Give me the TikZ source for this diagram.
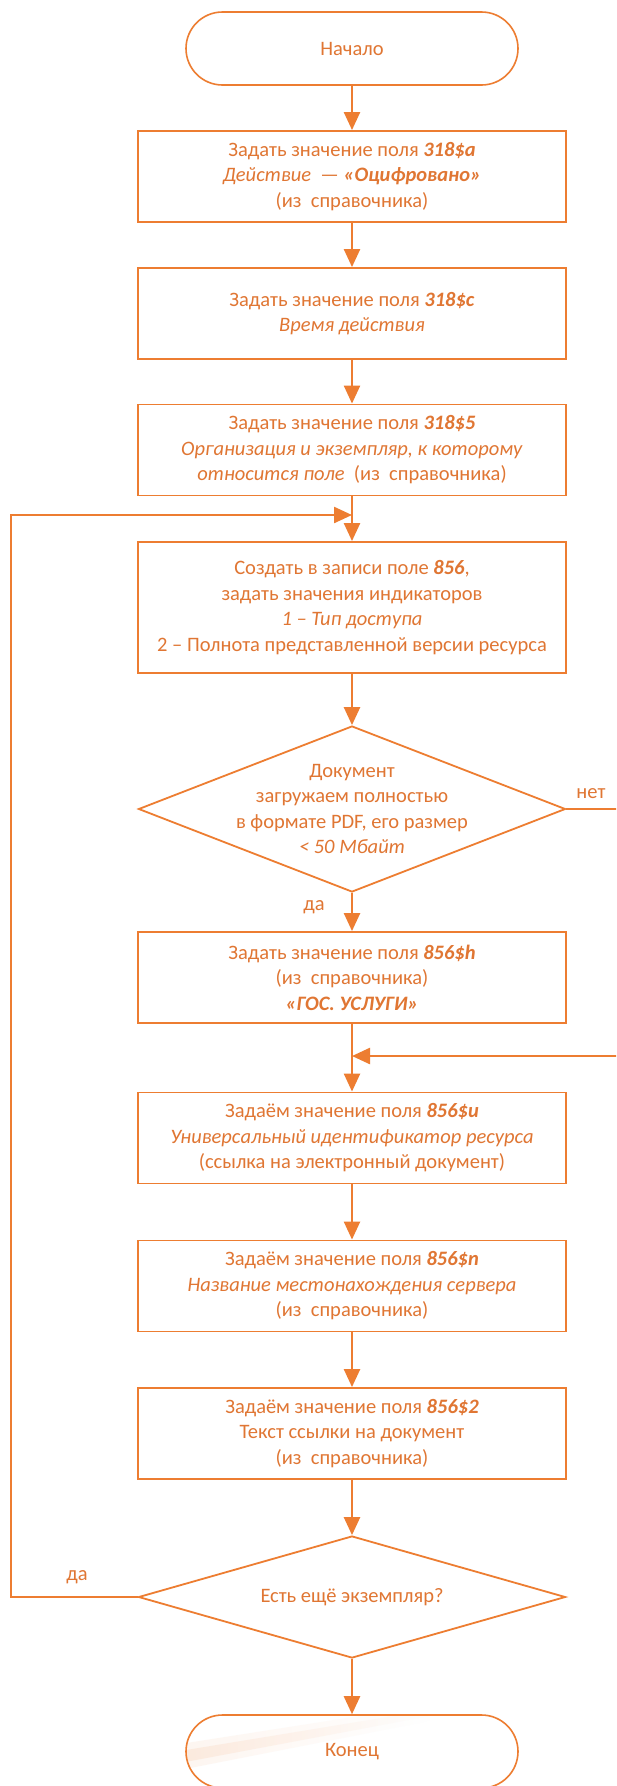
\documentclass[tikz,border=0pt]{standalone}
\usepackage{fontspec}
\setmainfont{Carlito}
\usetikzlibrary{arrows.meta,shapes.geometric,fadings}
\definecolor{org}{HTML}{ED7D31}
\definecolor{orgtxt}{HTML}{E07633}
\newcommand\myfs{\fontsize{20.5pt}{25.5pt}\selectfont}
\newcommand\fbi[1]{\textbf{\textit{#1}}}
\tikzfading[name=myfadeR, left color=transparent!0, right color=transparent!100]
\tikzset{
  box/.style={draw=org, line width=1.9pt, minimum width=428pt, minimum height=91pt,
    inner sep=0pt, align=center, text=orgtxt, font=\myfs},
  term/.style={draw=org, line width=1.6pt, rounded corners=36.5pt, minimum width=332pt,
    minimum height=73pt, inner sep=0pt, text=orgtxt, font=\myfs},
  dia/.style={draw=org, diamond, line width=1.8pt, inner sep=0pt},
  lbl/.style={text=orgtxt, font=\myfs, align=center, inner sep=0pt},
  arr/.style={draw=org, line width=2.4pt, -{Triangle[length=18pt,width=16pt]}},
}
\begin{document}
\begin{tikzpicture}[x=1pt,y=-1pt]
\useasboundingbox (0,0) rectangle (616,1786);
\clip (0,0) rectangle (616,1786);
\fill[white] (0,0) rectangle (616,1786);

\node[term] (start) at (352,48.5) {Начало};
\node[box] (b1) at (352,176.5) {Задать значение поля \fbi{318\$a}\\
  \textit{Действие}~~— \fbi{«Оцифровано»}\\(из~~справочника)};
\node[box] (b2) at (352,313.5) {Задать значение поля \fbi{318\$c}\\
  \textit{Время действия}};
\node[box] (b3) at (352,450) {Задать значение поля \fbi{318\$5}\\
  \textit{Организация и экземпляр, к которому}\\
  \textit{относится поле}~~(из~~справочника)};
\node[box, minimum height=131pt] (b4) at (352,607.5) {Создать в записи поле \fbi{856},\\
  задать значения индикаторов\\
  \textit{1 – Тип доступа}\\
  2 – Полнота представленной версии ресурса};
\node[dia, minimum width=427pt, minimum height=166pt] (d1) at (352,809) {};
\node[lbl] (d1t) at (d1.center) {Документ\\загружаем полностью\\в формате PDF, его размер\\\textit{< 50 Мбайт}};
\node[box] (b5) at (352,977.5) {Задать значение поля \fbi{856\$h}\\
  (из~~справочника)\\
  \fbi{«ГОС. УСЛУГИ»}};
\node[box] (b6) at (352,1138) {Задаём значение поля \fbi{856\$u}\\
  \textit{Универсальный идентификатор ресурса}\\
  (ссылка на электронный документ)};
\node[box] (b7) at (352,1286) {Задаём значение поля \fbi{856\$n}\\
  \textit{Название местонахождения сервера}\\
  (из~~справочника)};
\node[box] (b8) at (352,1433.5) {Задаём значение поля \fbi{856\$2}\\
  Текст ссылки на документ\\
  (из~~справочника)};
\node[dia, minimum width=427pt, minimum height=122pt] (d2) at (352,1597) {};
\node[lbl] (d2t) at (d2.center) {Есть ещё экземпляр?};

% faint streak inside the end terminal
\begin{scope}
  \clip[rounded corners=36.5pt] (186,1715) rectangle (518,1788);
  \fill[org!20, path fading=myfadeR, opacity=0.35] (180,1744) -- (430,1705) -- (430,1721) -- (180,1770) -- cycle;
  \fill[org!30, path fading=myfadeR, opacity=0.4] (180,1751) -- (430,1710) -- (430,1716) -- (180,1763) -- cycle;
\end{scope}
\node[term] (end) at (352,1751.5) {Конец};

\node[lbl] (no) at (591,794) {нет};
\node[lbl] (yes1) at (314,907) {да};
\node[lbl] (yes2) at (77,1577) {да};

\coordinate (j1) at (352,515);
\coordinate (lft) at (11,1597);
\coordinate (j2) at (352,1056);
\coordinate (rt) at (622,809);

\draw[arr] (start) -- (b1);
\draw[arr] (b1) -- (b2);
\draw[arr] (b2) -- (b3);
\draw[arr] (b3) -- (b4);
\draw[arr] (b4) -- (d1);
\draw[arr] (d1) -- (b5);
\draw[arr] (b5) -- (b6);
\draw[arr] (b6) -- (b7);
\draw[arr] (b7) -- (b8);
\draw[arr] (b8) -- (d2);
\draw[arr] (d2) -- (end);
\draw[arr] (d2.west) -- (lft) |- (j1);
\draw[arr] (d1.east) -- (rt) |- (j2);
\end{tikzpicture}
\end{document}
